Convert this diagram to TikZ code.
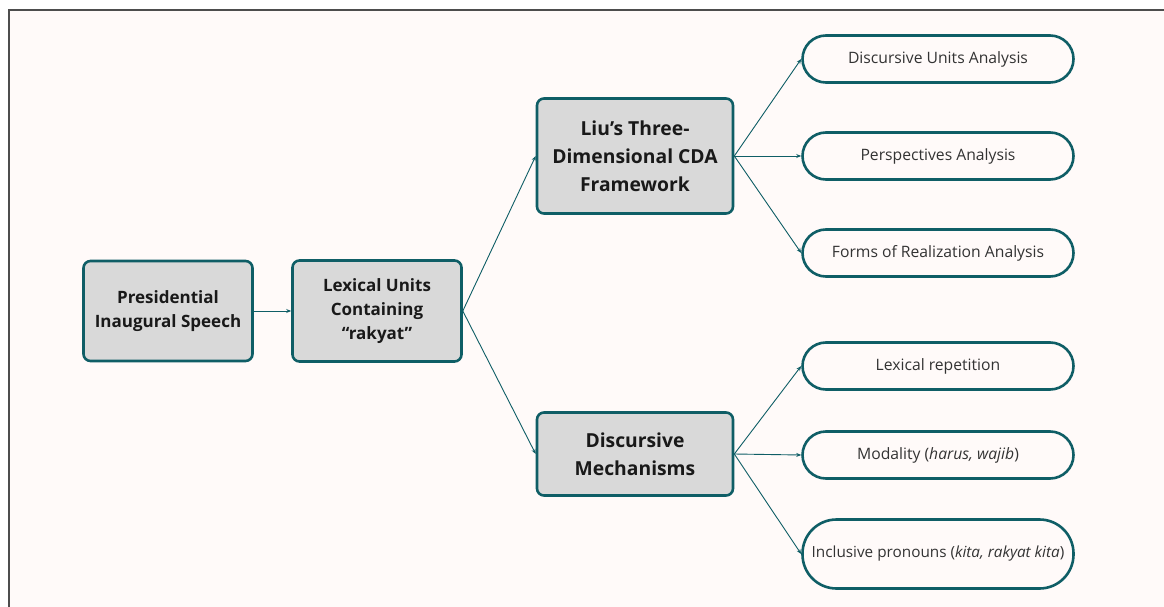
\documentclass[tikz,border=0pt]{standalone}
\usepackage{fontspec}
\setmainfont{Open Sans}
\usetikzlibrary{arrows.meta}
\definecolor{tealline}{HTML}{0F5E66}
\definecolor{boxgray}{HTML}{D9D9D9}
\definecolor{pagebg}{HTML}{FFFAF9}
\definecolor{framegray}{HTML}{4D4D4D}

\begin{document}
\begin{tikzpicture}[x=1pt,y=-1pt,>=Stealth,
  mainbox/.style={draw=tealline,line width=2.6pt,fill=boxgray,rounded corners=7pt,
    align=center,text=black!90,inner sep=0pt},
  pill/.style={draw=tealline,line width=2.6pt,fill=pagebg,rounded corners=23.5pt,
    minimum width=271pt,minimum height=47pt,inner sep=0pt,text=black!80,
    font=\fontsize{15.7}{19}\selectfont},
  link/.style={->,draw=tealline,line width=0.9pt,>={Stealth[length=5pt,width=4pt]}}]
\def\px{938}
% ---- page frame ----
\useasboundingbox (0,0) rectangle (1164,607);
\fill[white] (0,0) rectangle (1164,607);
\fill[pagebg] (9,10) rectangle (1164,607);
\draw[framegray,line width=2pt] (9,607) -- (9,10) -- (1164,10);
% ---- left column ----
\node[mainbox,minimum width=169pt,minimum height=100pt,
  font=\bfseries\fontsize{17}{24}\selectfont] (pres) at (168,311)
  {Presidential\\Inaugural Speech};
\node[mainbox,minimum width=169pt,minimum height=101pt,
  font=\bfseries\fontsize{17}{24}\selectfont] (lex) at (377,311)
  {Lexical Units\\Containing\\“rakyat”};
% ---- middle column ----
\node[mainbox,minimum width=196pt,minimum height=115pt,
  font=\bfseries\fontsize{19.3}{28}\selectfont] (liu) at (635,156)
  {Liu’s Three-\\Dimensional CDA\\Framework};
\node[mainbox,minimum width=196pt,minimum height=83pt,
  font=\bfseries\fontsize{19.3}{28}\selectfont] (mech) at (635,454)
  {Discursive\\Mechanisms};
% ---- right column: analysis dimensions ----
\node[pill] (units) at (\px,59) {Discursive Units Analysis};
\node[pill] (persp) at (\px,156) {Perspectives Analysis};
\node[pill] (forms) at (\px,253) {Forms of Realization Analysis};
% ---- right column: mechanisms ----
\node[pill] (rep) at (\px,366) {Lexical repetition};
\node[pill] (modal) at (\px,455) {Modality (\textit{harus, wajib})};
\node[pill,minimum height=69pt,rounded corners=34pt,
  font=\fontsize{15.3}{18}\selectfont] (pron) at (\px,554)
  {Inclusive pronouns (\textit{kita, rakyat kita})};
% ---- connectors ----
\draw[link] (pres.east) -- (lex.west);
\draw[link] (lex.east) -- (liu.west);
\draw[link] (lex.east) -- (mech.west);
\foreach \t in {units,persp,forms}{
  \draw[link] (liu.east) -- (\t.west);}
\foreach \t in {rep,modal,pron}{
  \draw[link] (mech.east) -- (\t.west);}
\end{tikzpicture}
\end{document}
